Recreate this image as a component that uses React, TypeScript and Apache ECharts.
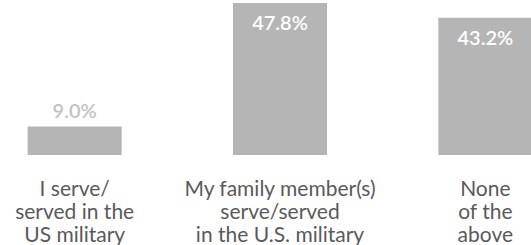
import React, { useEffect, useRef } from "react";
import * as echarts from "echarts";

const categories = [
  "I serve/\nserved in the\nUS military",
  "My family member(s)\nserve/served\nin the U.S. military",
  "None\nof the\nabove",
];
const values = [9.0, 47.8, 43.2];

export default function App() {
  const ref = useRef<HTMLDivElement>(null);
  useEffect(() => {
    const chart = echarts.init(ref.current!, null, { renderer: "svg" });
    chart.setOption({
      animation: false,
      grid: { left: 0, right: 0, top: 3, bottom: 90, containLabel: false },
      xAxis: {
        type: "category",
        data: categories,
        axisLine: { show: false },
        axisTick: { show: false },
        axisLabel: {
          interval: 0,
          margin: 21,
          color: "#5a5a5a",
          fontFamily: "Lato",
          fontSize: 21,
          lineHeight: 23,
        },
      },
      yAxis: { type: "value", min: 0, max: 47.8, show: false },
      series: [
        {
          type: "bar",
          barWidth: 94,
          data: values.map((v, i) => ({
            value: v,
            label:
              i === 0
                ? { position: "top", distance: 6, color: "#c2c2c2" }
                : { position: "insideTop", distance: 9, color: "#ffffff" },
          })),
          itemStyle: { color: "#b5b5b5" },
          label: {
            show: true,
            fontFamily: "Lato",
            fontSize: 20,
            fontWeight: 600,
            formatter: (p: any) => p.value.toFixed(1) + "%",
          },
        },
      ],
    });
    return () => chart.dispose();
  }, []);
  return (
    <div
      style={{
        position: "absolute",
        left: 0,
        top: 0,
        width: 531,
        height: 245,
        overflow: "hidden",
      }}
    >
      <div
        ref={ref}
        style={{ position: "absolute", left: -28, top: 0, width: 616, height: 245 }}
      />
    </div>
  );
}
